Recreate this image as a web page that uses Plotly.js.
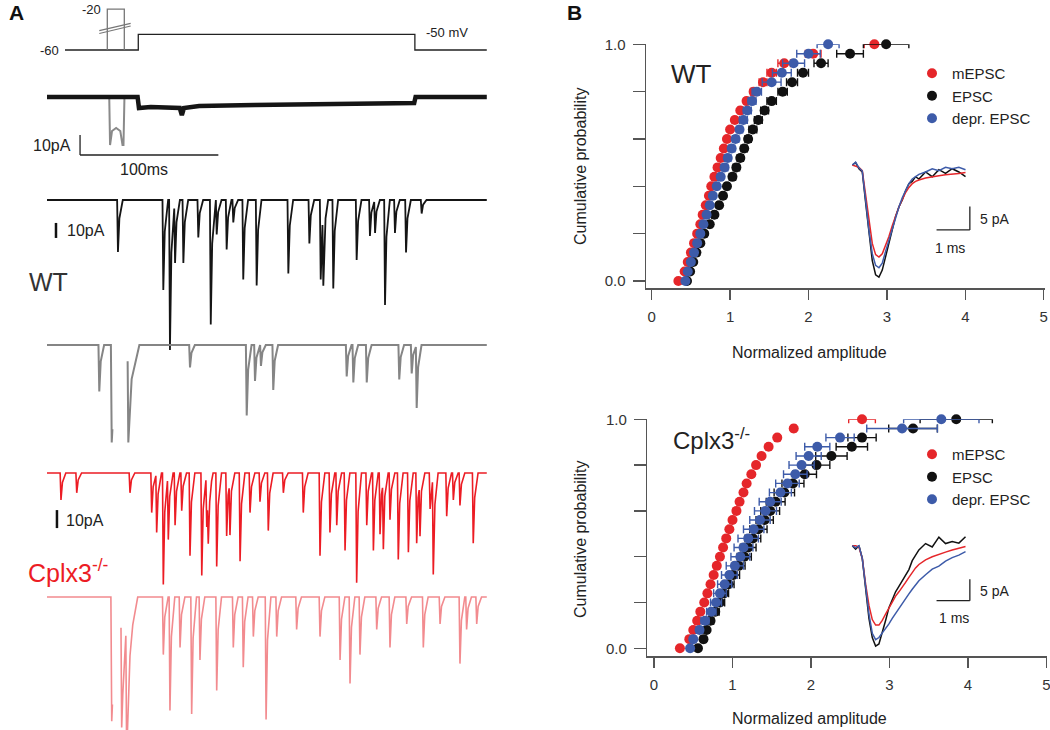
<!DOCTYPE html>
<html>
<head>
<meta charset="utf-8">
<script src="https://cdn.plot.ly/plotly-3.0.1.min.js"></script>
<style>
  html,body{margin:0;padding:0;background:#fff}
  #fig{width:1050px;height:730px}
</style>
</head>
<body>
<div id="fig"></div>
<script>
// ---- panel B: cumulative distributions (quantile levels and normalized amplitudes)
const probLevels = [0,0.04,0.08,0.12,0.16,0.2,0.24,0.28,0.32,0.36,0.4,0.44,0.48,0.52,0.56,0.6,0.64,0.68,0.72,0.76,0.8,0.84,0.88,0.92,0.96,1];

const wtMini       = [0.34,0.42,0.46,0.50,0.54,0.58,0.62,0.65,0.69,0.73,0.76,0.80,0.84,0.88,0.92,0.96,1.00,1.06,1.13,1.21,1.30,1.42,1.53,1.69,2.06,2.84];
const wtMiniErr    = [0.01,0.01,0.01,0.01,0.01,0.01,0.01,0.01,0.01,0.02,0.02,0.02,0.02,0.02,0.02,0.02,0.02,0.03,0.03,0.03,0.04,0.05,0.06,0.08,0.10,0.13];
const wtEvoked     = [0.45,0.49,0.53,0.57,0.62,0.67,0.74,0.80,0.86,0.91,0.96,1.03,1.08,1.13,1.18,1.23,1.29,1.36,1.44,1.53,1.67,1.79,1.93,2.16,2.53,2.99];
const wtEvokedErr  = [0.02,0.02,0.02,0.02,0.02,0.03,0.03,0.03,0.03,0.03,0.03,0.04,0.04,0.04,0.04,0.04,0.05,0.05,0.05,0.06,0.06,0.07,0.07,0.09,0.17,0.29];
const wtDepr       = [0.43,0.46,0.50,0.54,0.58,0.62,0.66,0.70,0.74,0.78,0.83,0.88,0.93,0.97,1.02,1.07,1.12,1.17,1.22,1.28,1.34,1.53,1.66,1.81,2.00,2.25];
const wtDeprErr    = [0.02,0.02,0.02,0.02,0.02,0.02,0.03,0.03,0.03,0.03,0.03,0.03,0.04,0.04,0.04,0.04,0.04,0.05,0.05,0.05,0.06,0.12,0.12,0.14,0.15,0.14];

const koMini       = [0.33,0.45,0.50,0.55,0.59,0.64,0.68,0.72,0.76,0.80,0.84,0.88,0.92,0.96,1.00,1.05,1.09,1.14,1.18,1.24,1.30,1.37,1.46,1.57,1.78,2.65];
const koMiniErr    = [0.01,0.01,0.01,0.01,0.01,0.01,0.01,0.01,0.01,0.01,0.01,0.01,0.01,0.01,0.01,0.01,0.01,0.01,0.01,0.01,0.02,0.02,0.02,0.02,0.03,0.17];
const koEvoked     = [0.56,0.63,0.67,0.72,0.78,0.84,0.89,0.95,1.01,1.08,1.15,1.20,1.26,1.33,1.41,1.48,1.55,1.66,1.77,1.92,2.07,2.26,2.52,2.65,3.30,3.85];
const koEvokedErr  = [0.02,0.03,0.03,0.04,0.05,0.06,0.06,0.07,0.08,0.08,0.09,0.10,0.10,0.11,0.11,0.12,0.12,0.13,0.14,0.15,0.17,0.20,0.20,0.18,0.31,0.46];
const koDepr       = [0.46,0.50,0.58,0.65,0.73,0.79,0.84,0.90,0.96,1.03,1.10,1.14,1.20,1.27,1.35,1.42,1.48,1.61,1.70,1.80,1.88,1.97,2.08,2.37,3.16,3.66];
const koDeprErr    = [0.02,0.03,0.04,0.05,0.06,0.07,0.08,0.09,0.10,0.11,0.12,0.12,0.13,0.13,0.13,0.14,0.14,0.14,0.15,0.15,0.16,0.16,0.16,0.18,0.45,0.48];

const seriesNames = ['mEPSC','EPSC','depr. EPSC'];
const yTickVals = [0,0.2,0.4,0.6,0.8,1];
const yTickText = ['0.0','','','','','1.0'];
const xTickVals = [0,1,2,3,4,5];

// ---- insets: averaged EPSC waveforms (ms, pA)
const insetT   = [0,0.1,0.2,0.3,0.4,0.5,0.6,0.7,0.8,0.9,1.0,1.1,1.2,1.3,1.4,1.5,1.6,1.7,1.8,1.9,2.0,2.2,2.4,2.6,2.8,3.0,3.2,3.4];
const wtAvgMini   = [0,-0.3,-0.5,-1.2,-6.5,-12.5,-16.8,-19.2,-19.7,-19.0,-17.3,-15.3,-13.0,-10.8,-9.0,-7.4,-5.9,-4.8,-4.0,-3.5,-3.2,-2.8,-2.5,-2.3,-2.1,-2.0,-1.8,-1.6];
const wtAvgEvoked = [0,0.5,-0.8,-1.5,-8,-15,-20.5,-23.5,-24,-22.5,-19.5,-16.5,-13.5,-11,-9,-7.5,-5.5,-4,-3.5,-2.5,-3.0,-1.5,-2.5,-1.0,-1.8,-0.8,-1.5,-2.5];
const wtAvgDepr   = [0,0.6,-0.6,-1.3,-7.5,-14,-19,-21.5,-22,-21,-18.5,-16,-13.5,-11,-9,-7,-5.5,-4,-3,-2.5,-2,-1.5,-0.8,-1.2,-0.5,-0.8,-0.5,-1.0];
const koAvgMini   = [0,0,-0.3,-3,-9,-14,-17.3,-18.6,-18.6,-17.5,-16,-14.5,-13,-11.8,-10.8,-9.8,-8.6,-7.4,-6.2,-5.2,-4.4,-3.3,-2.6,-2.0,-1.5,-1.0,-0.6,-0.2];
const koAvgEvoked = [0,-0.8,0,-3,-10,-17,-21.5,-23.5,-23,-20.5,-17.5,-14.5,-12.5,-10.8,-9.5,-8.3,-7,-5.6,-3.5,-2.2,-1.0,0.5,-0.3,2.0,0.5,1.0,0.6,2.1];
const koAvgDepr   = [0,-0.5,0,-3,-9.5,-16,-20.5,-22,-21.5,-20.5,-19.5,-18.3,-17,-15.8,-14.8,-13.6,-12.4,-11.3,-10.2,-9.2,-8.2,-6.8,-5.5,-4.8,-3.6,-2.8,-2.2,-1.4];

// ---- panel A: recordings (ms, pA / mV)
const protoT = [13,66,66,266,266,318];
const protoV = [-60,-60,-50,-50,-60,-60];
const pulseT = [43.6,43.6,55.9,55.9];
const pulseV = [-60,-34,-34,-60];   // -20 mV pulse, drawn on the broken scale

const stimBlackT = [0,65.5,66.5,75,96,97.5,99,110,150,200,265.5,266.5,318];
const stimBlackI = [0,0,-5.5,-5,-5.5,-9,-5.5,-4.5,-4,-3.5,-3,0,0];
const stimGrayT  = [0,45.0,45.6,47,50,53,54.6,55.3,56,65.5];
const stimGrayI  = [0,0,-24,-17,-15.5,-17,-24,-24,0,0];

const wtAsyncT = [51.3,84.1,88.9,92.6,98.6,109.4,118.4,122.7,129.9,134.7,141.9,151.6,174.5,189.7,197.9,199.8,207,223.9,233.5,237.2,244.4,251.6,259.6,270.9];
const wtAsyncA = [34.7,60,100,42,42,25,83,23,33,15,53,57,49,29,53,45,59,40,24,22,70,22,35,9];
const wtMiniT  = [37.8,103.4,144.4,150.4,154.7,163.6,216.7,221.5,231.2,254.7,263.7,267.3];
const wtMiniA  = [31,15,47,24,14,30,21,25,25,23,19,42];
const wtArtT   = [46.8,58.8];
const wtArtA   = [65,65];

const koAsyncT = [10.1,21.5,60,75.7,79.3,84.1,87.7,92.6,97.4,103.4,111.9,115.5,116.6,122.7,129.9,132.3,139.6,146.8,154,160,170.9,185.3,197.4,204.6,209.5,215.5,223.9,231.2,236,240.8,243.2,248,254,261.3,267.3,269.7,277,279.3,289,293.8,298.6,308.2];
const koAsyncA = [15,11,11,22,33,62,37,29,21,46,57,30,29,52,35,29,49,22,16,32,11,22,46,33,29,43,61,29,43,34,37,26,48,44,39,29,20,53,24,15,18,39];
const koMiniT  = [84.1,88.9,96.2,104.6,110.6,122.7,134.7,141.9,149.2,158.4,166.1,180.5,197.4,211.9,219.1,226.3,238.4,248,260.1,272.1,284.2,298.6,303.4,310.7];
const koMiniA  = [32,63,28,65,35,52,28,39,22,68,22,18,22,35,48,32,18,28,15,28,15,37,18,15];
const koArtT   = [46.8,54,57.6];
const koArtA   = [69,69,69];

const W = 1050, H = 730;
const FONT = '"Liberation Sans", Arial, Helvetica, sans-serif';
const RED = '#e5262a', BLUE = '#3d5ba9', BLACK = '#111111';

// value at pixel p for an axis where pixel p0 -> v0, p1 -> v1
function valAt(p, p0, p1, v0, v1){ return v0 + (p - p0) * (v1 - v0) / (p1 - p0); }
function xdom(a, b){ return [a / W, b / W]; }
function ydom(top, bottom){ return [1 - bottom / H, 1 - top / H]; }

// build a current trace out of read event times / amplitudes
function buildTrace(groups, tEnd, gaps){
  const ev = [];
  groups.forEach(g => g.t.forEach((t, i) => ev.push({t: t, a: g.a[i], d: g.d})));
  function k(e, t){
    const dt = t - e.t;
    if(dt < -0.6 || dt > e.d) return 0;
    if(dt < 0) return e.a * (1 + dt / 0.6);
    if(dt < 0.3 * e.d) return e.a * (1 - 0.65 * dt / (0.3 * e.d));
    return e.a * 0.35 * (1 - (dt - 0.3 * e.d) / (0.7 * e.d));
  }
  let ts = [0, tEnd];
  ev.forEach(e => ts.push(e.t - 0.6, e.t, e.t + 0.3 * e.d, e.t + e.d));
  (gaps || []).forEach(g => ts.push(g[0], g[1]));
  ts = Array.from(new Set(ts.map(t => Math.round(t * 100) / 100))).filter(t => t >= 0 && t <= tEnd).sort((a, b) => a - b);
  const x = [], y = [];
  ts.forEach(t => {
    const inGap = (gaps || []).some(g => t > g[0] && t < g[1]);
    if(inGap) return;
    x.push(t); y.push(-ev.reduce((s, e) => s + k(e, t), 0));
    if((gaps || []).some(g => Math.abs(t - g[0]) < 1e-6)){ x.push(t + 0.01); y.push(null); }
  });
  return {x, y};
}

const traces = [];

// panel B cumulative plots
function cdfTraces(xs, errs, colors, xa, ya, legendId){
  xs.forEach((vals, i) => {
    traces.push({
      type: 'scatter', mode: 'markers', x: vals, y: probLevels, name: seriesNames[i],
      xaxis: xa, yaxis: ya, legend: legendId, cliponaxis: false,
      marker: {size: 10, color: colors[i], line: {width: 0}},
      error_x: {type: 'data', array: errs[i], color: colors[i], thickness: 1.4, width: 4},
      hoverinfo: 'x+y'
    });
  });
}
cdfTraces([wtMini, wtEvoked, wtDepr], [wtMiniErr, wtEvokedErr, wtDeprErr], [RED, BLACK, BLUE], 'x', 'y', 'legend');
cdfTraces([koMini, koEvoked, koDepr], [koMiniErr, koEvokedErr, koDeprErr], [RED, BLACK, BLUE], 'x2', 'y2', 'legend2');

// insets
[[wtAvgEvoked, BLACK], [wtAvgMini, RED], [wtAvgDepr, BLUE]].forEach(p => traces.push({
  type: 'scatter', mode: 'lines', x: insetT, y: p[0], xaxis: 'x3', yaxis: 'y3',
  line: {color: p[1], width: 1.5}, showlegend: false, hoverinfo: 'skip'}));
[[koAvgEvoked, BLACK], [koAvgMini, RED], [koAvgDepr, BLUE]].forEach(p => traces.push({
  type: 'scatter', mode: 'lines', x: insetT, y: p[0], xaxis: 'x4', yaxis: 'y4',
  line: {color: p[1], width: 1.5}, showlegend: false, hoverinfo: 'skip'}));

// panel A recordings
function lineTrace(x, y, ya, color, width){
  return {type: 'scatter', mode: 'lines', x: x, y: y, xaxis: 'x5', yaxis: ya,
    line: {color: color, width: width, shape: 'linear'}, connectgaps: false, showlegend: false, hoverinfo: 'skip'};
}
traces.push(lineTrace(protoT, protoV, 'y5', '#222', 1.3));
traces.push(lineTrace(pulseT, pulseV, 'y5', '#777', 1.3));
traces.push(lineTrace(stimGrayT, stimGrayI, 'y6', '#8a8a8a', 2));
traces.push(lineTrace(stimBlackT, stimBlackI, 'y6', '#151515', 4.5));
const tr2 = buildTrace([{t: wtAsyncT, a: wtAsyncA, d: 3.5}], 318);
traces.push(lineTrace(tr2.x, tr2.y, 'y7', '#151515', 1.8));
const tr3 = buildTrace([{t: wtMiniT, a: wtMiniA, d: 3.5}, {t: wtArtT, a: wtArtA, d: 8}], 318, [[47.3, 58.3]]);
traces.push(lineTrace(tr3.x, tr3.y, 'y8', '#858585', 2));
const tr4 = buildTrace([{t: koAsyncT, a: koAsyncA, d: 3.5}], 318);
traces.push(lineTrace(tr4.x, tr4.y, 'y9', '#ec1c24', 1.6));
const tr5 = buildTrace([{t: koMiniT, a: koMiniA, d: 3.5}, {t: koArtT, a: koArtA, d: 8}], 318, [[47.3, 53.5]]);
traces.push(lineTrace(tr5.x, tr5.y, 'y10', '#f28b8f', 1.6));

// axes
function cdfAxes(px0, pxUnit, left, right, pyZero, pyOne, bottom){
  const common = {showline: true, linecolor: '#555', linewidth: 1.5, ticks: 'outside', tickcolor: '#555', tickwidth: 1.5,
    showgrid: false, zeroline: false, fixedrange: true, ticklabeloverflow: 'allow',
    tickfont: {size: 15, color: '#333', family: FONT}};
  const xa = Object.assign({}, common, {domain: xdom(left, right),
    range: [valAt(left, px0, px0 + pxUnit, 0, 1), valAt(right, px0, px0 + pxUnit, 0, 1)],
    tickvals: xTickVals, ticklen: 10, ticklabelstandoff: 4});
  const ya = Object.assign({}, common, {domain: ydom(pyOne, bottom),
    range: [valAt(bottom, pyZero, pyOne, 0, 1), 1],
    tickvals: yTickVals, ticktext: yTickText, ticklen: 12, ticklabelstandoff: 4});
  return [xa, ya];
}
const [xa1, ya1] = cdfAxes(651.7, 78.4, 646, 1045, 281, 44.3, 288);
const [xa2, ya2] = cdfAxes(654, 78.5, 647.3, 1047, 648.3, 419.3, 656);
xa1.anchor = 'y'; ya1.anchor = 'x';
xa2.anchor = 'y2'; ya2.anchor = 'x2';

function hiddenAxis(extra){ return Object.assign({visible: false, fixedrange: true, showgrid: false, zeroline: false}, extra); }
// inset: t=0 ms at px 852.3, 33.3 px per ms
const insetX = (a) => hiddenAxis({domain: xdom(840, 1000), range: [valAt(840, 852.3, 885.6, 0, 1), valAt(1000, 852.3, 885.6, 0, 1)], anchor: a});
function pAaxis(pyBase, pxPer, top, bottom, xa){
  return hiddenAxis({domain: ydom(top, bottom), range: [(pyBase - bottom) / pxPer, (pyBase - top) / pxPer], anchor: xa});
}
// panel A: t=0 at px 47, 1.383 px per ms
const recX = hiddenAxis({domain: xdom(0, 500), range: [valAt(0, 47, 48.383, 0, 1), valAt(500, 47, 48.383, 0, 1)], anchor: 'y5'});
const protoAxis = hiddenAxis({domain: ydom(0, 60), range: [-60 + (50 - 60) / 1.57, -60 + 50 / 1.57], anchor: 'x5'});

// scale bars and break marks
const shapes = [
  {type: 'line', xref: 'x3', yref: 'y3', x0: 2.53, x1: 3.53, y0: -13.9, y1: -13.9, line: {color: '#222', width: 1.3}},
  {type: 'line', xref: 'x3', yref: 'y3', x0: 3.53, x1: 3.53, y0: -13.9, y1: -8.9, line: {color: '#222', width: 1.3}},
  {type: 'line', xref: 'x4', yref: 'y4', x0: 2.53, x1: 3.53, y0: -12.87, y1: -12.87, line: {color: '#222', width: 1.3}},
  {type: 'line', xref: 'x4', yref: 'y4', x0: 3.53, x1: 3.53, y0: -12.87, y1: -7.87, line: {color: '#222', width: 1.3}},
  {type: 'line', xref: 'x5', yref: 'y6', x0: 23.9, x1: 23.9, y0: -19, y1: -29, line: {color: '#222', width: 1.3}},
  {type: 'line', xref: 'x5', yref: 'y6', x0: 23.9, x1: 123.9, y0: -29, y1: -29, line: {color: '#222', width: 1.3}},
  {type: 'line', xref: 'x5', yref: 'y7', x0: 6.5, x1: 6.5, y0: -15.3, y1: -25.3, line: {color: '#111', width: 2.5}},
  {type: 'line', xref: 'x5', yref: 'y9', x0: 7.2, x1: 7.2, y0: -20.6, y1: -30.6, line: {color: '#111', width: 2.5}},
  {type: 'line', xref: 'x5', yref: 'y5', x0: 37.8, x1: 60.5, y0: -47.7, y1: -43.0, line: {color: '#777', width: 1.2}},
  {type: 'line', xref: 'x5', yref: 'y5', x0: 37.8, x1: 60.5, y0: -49.5, y1: -44.7, line: {color: '#777', width: 1.2}}
];

function ann(text, px, py, size, opts){
  return Object.assign({text: text, x: px / W, y: 1 - py / H, xref: 'paper', yref: 'paper', showarrow: false,
    xanchor: 'center', yanchor: 'middle', font: {family: FONT, size: size, color: '#222'}}, opts || {});
}
const annotations = [
  ann('<b>A</b>', 16, 13, 21, {font: {family: FONT, size: 21, color: '#111'}}),
  ann('<b>B</b>', 574, 13, 21, {font: {family: FONT, size: 21, color: '#111'}}),
  ann('-60', 49, 50, 13),
  ann('-20', 91, 9, 13),
  ann('-50 mV', 447, 32, 13),
  ann('10pA', 52, 146, 16),
  ann('100ms', 144, 169, 16),
  ann('10pA', 86, 231, 16),
  ann('WT', 48, 282, 25, {font: {family: FONT, size: 25, color: '#333'}}),
  ann('10pA', 85, 520, 16),
  ann('Cplx3<sup>-/-</sup>', 68, 571, 25, {font: {family: FONT, size: 25, color: '#ec1c24'}}),
  ann('WT', 692, 74, 26),
  ann('Cplx3<sup>-/-</sup>', 711, 439, 24),
  ann('Cumulative probability', 580, 167, 16, {textangle: -90}),
  ann('Cumulative probability', 580, 540, 16, {textangle: -90}),
  ann('Normalized amplitude', 809, 352, 16),
  ann('Normalized amplitude', 809, 718, 16),
  ann('5 pA', 978, 219, 14, {xanchor: 'left'}),
  ann('1 ms', 950, 248, 14),
  ann('5 pA', 978, 591, 14, {xanchor: 'left'}),
  ann('1 ms', 954, 618, 14)
];

const legendStyle = (pyTop) => ({x: 912 / W, y: 1 - pyTop / H, xanchor: 'left', yanchor: 'top',
  font: {family: FONT, size: 15, color: '#222'}, bgcolor: 'rgba(0,0,0,0)', tracegroupgap: 0, itemwidth: 30});

const layout = {
  width: W, height: H, margin: {l: 0, r: 0, t: 0, b: 0},
  paper_bgcolor: '#fff', plot_bgcolor: 'rgba(0,0,0,0)',
  font: {family: FONT, color: '#222'},
  showlegend: true,
  legend: legendStyle(57),
  legend2: legendStyle(438),
  xaxis: xa1, yaxis: ya1,
  xaxis2: xa2, yaxis2: ya2,
  xaxis3: insetX('y3'), yaxis3: pAaxis(165, 4.67, 150, 290, 'x3'),
  xaxis4: insetX('y4'), yaxis4: pAaxis(545.7, 4.27, 530, 660, 'x4'),
  xaxis5: recX,
  yaxis5: protoAxis,
  yaxis6: pAaxis(97, 2.0, 80, 170, 'x5'),
  yaxis7: pAaxis(200, 1.5, 185, 360, 'x5'),
  yaxis8: pAaxis(345, 1.5, 330, 460, 'x5'),
  yaxis9: pAaxis(473, 1.8, 455, 600, 'x5'),
  yaxis10: pAaxis(597, 1.8, 580, 730, 'x5'),
  shapes: shapes,
  annotations: annotations
};

Plotly.newPlot('fig', traces, layout, {displayModeBar: false, staticPlot: true});
</script>
</body>
</html>
